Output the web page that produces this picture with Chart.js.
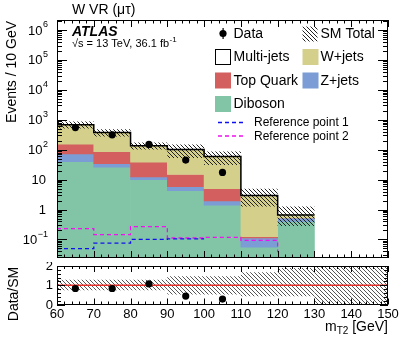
<!DOCTYPE html>
<html>
<head>
<meta charset="utf-8">
<script src="https://cdn.jsdelivr.net/npm/chart.js@4.4.0/dist/chart.umd.min.js"></script>
<style>
  html, body { margin: 0; padding: 0; background: #fff; }
  #wrap { position: relative; width: 411px; height: 339px; }
  #main { position: absolute; left: 0; top: 0; }
  #ratio { position: absolute; left: 0; top: 262px; }
</style>
</head>
<body>
<div id="wrap">
  <canvas id="main" width="411" height="262" style="width:411px;height:262px"></canvas>
  <canvas id="ratio" width="411" height="77" style="width:411px;height:77px"></canvas>
</div>
<script>
// binning (m_T2 in GeV)
const binEdges = [60, 70, 80, 90, 100, 110, 120, 130, 140, 150];
const binCenters = [65, 75, 85, 95, 105, 115, 125, 135, 145];

// stacked backgrounds, events per bin (60-130 GeV)
const multiJets = [0, 0, 0, 0, 0, 0, 0];
const wJets = [530, 286, 98, 87, 54, 2.83, 0.14];
const topQuark = [81, 52, 26, 9.0, 3.0, 0.013, 0];
const zJets = [32, 8.3, 2.4, 1.5, 0.55, 0.057, 0.12];
const diboson = [40, 26, 10, 4.3, 1.4, 0.055, 0.40];

// observed data
const dataEvents = [545, 312, 150, 45, 17.4, null, null];
const dataOverSM = [0.83, 0.83, 1.07, 0.44, 0.28];

// signal reference points (per bin, 60-150 GeV)
const refPoint1 = [0.049, 0.075, 0.10, 0.104, 0.104, 0, 0.026, 0, 0];
const refPoint2 = [0.23, 0.145, 0.27, 0.112, 0.118, 0.093, 0.037, 0, 0];

// SM total uncertainty, relative to SM total
const bandLow = [0.74, 0.74, 0.74, 0.52, 0.52, 0.43, 0.43, 0, 0];
const bandHigh = [1.28, 1.28, 1.28, 1.47, 1.47, 1.67, 1.9, 2, 2];

// axis labels
const xTickValues = [60, 70, 80, 90, 100, 110, 120, 130, 140, 150];
const yTickValues = [0.1, 1, 10, 100, 1e3, 1e4, 1e5, 1e6];
const yTickBase = ['10', '1', '10', '10', '10', '10', '10', '10'];
const yTickExp = ['\u22121', '', '', '2', '3', '4', '5', '6'];
const ratioTickValues = [0, 1, 2];

const FONT = '"Liberation Sans", Arial, Helvetica, sans-serif';
Chart.defaults.font.family = FONT;
Chart.defaults.animation = false;

const C = {
  wjets: '#d4d08c',
  top: '#d45f5f',
  zjets: '#7b9cd4',
  diboson: '#82c4a6',
  ref1: '#1010ee',
  ref2: '#ee10ee'
};

function hatch(ctx, size, color) {
  const c = document.createElement('canvas');
  c.width = size; c.height = size;
  const g = c.getContext('2d');
  g.strokeStyle = color;
  g.lineWidth = 1;
  g.beginPath();
  for (const o of [-size, 0, size]) {
    g.moveTo(o, 0);
    g.lineTo(o + size, size);
  }
  g.stroke();
  return ctx.createPattern(c, 'repeat');
}

// cumulative stack, bottom to top; the bottom layer starts below the axis
const FLOOR = 1e-3;
const layers = [diboson, zJets, topQuark, wJets, multiJets];
const floors = [];
let running = diboson.map(() => 0);
for (const l of layers) {
  floors.push(running.slice());
  running = running.map((v, i) => v + l[i]);
}
const smTotal = running;

const floatBars = (k) => layers[k].map((v, i) => ({
  x: binCenters[i],
  y: [floors[k][i] || FLOOR, floors[k][i] + v || FLOOR]
}));
const stepLine = (vals) => {
  const pts = vals.map((v, i) => ({ x: binEdges[i], y: v }));
  pts.push({ x: binEdges[vals.length], y: vals[vals.length - 1] });
  return pts;
};

const mainCtx = document.getElementById('main').getContext('2d');
const ratioCtx = document.getElementById('ratio').getContext('2d');
const hatchMain = hatch(mainCtx, 4, '#222');
const hatchRatio = hatch(ratioCtx, 4, '#555');

// frame + inward ticks, ROOT style
const framePlugin = {
  id: 'frame',
  afterDatasetsDraw(chart, args, o) {
    const { ctx, chartArea: a } = chart;
    const x = chart.scales.x, y = chart.scales.y;
    ctx.save();
    ctx.strokeStyle = '#000';
    ctx.lineWidth = 1;
    ctx.beginPath();
    for (let v = 60; v <= 150; v += 2) {
      const px = Math.round(x.getPixelForValue(v)) + 0.5;
      const len = v % 10 === 0 ? o.xMajor : o.xMinor;
      ctx.moveTo(px, a.bottom); ctx.lineTo(px, a.bottom - len);
      ctx.moveTo(px, a.top); ctx.lineTo(px, a.top + len);
    }
    const yt = [];
    if (o.log) {
      for (let e = -2; e <= 6; e++) {
        for (let m = 1; m <= 9; m++) yt.push([m * Math.pow(10, e), m === 1]);
      }
    } else {
      for (let v = 0; v <= 2.0001; v += 0.2) yt.push([v, Math.abs(v - Math.round(v)) < 1e-6]);
    }
    for (const [v, major] of yt) {
      if (v < y.min || v > y.max) continue;
      const py = Math.round(y.getPixelForValue(v)) + 0.5;
      const len = major ? o.yMajor : o.yMinor;
      ctx.moveTo(a.left, py); ctx.lineTo(a.left + len, py);
      ctx.moveTo(a.right, py); ctx.lineTo(a.right - len, py);
    }
    ctx.stroke();
    ctx.strokeRect(Math.round(a.left) + 0.5, Math.round(a.top) + 0.5,
      Math.round(a.right) - Math.round(a.left) - 1, Math.round(a.bottom) - Math.round(a.top) - 1);
    ctx.restore();
  }
};

const mainText = {
  id: 'mainText',
  afterDraw(chart) {
    const { ctx } = chart;
    const y = chart.scales.y;
    ctx.save();
    ctx.fillStyle = '#000';
    ctx.textBaseline = 'middle';
    // y tick labels with exponents
    yTickValues.forEach((v, i) => {
      const py = y.getPixelForValue(v);
      ctx.font = `9px ${FONT}`;
      const we = yTickExp[i] ? ctx.measureText(yTickExp[i]).width : 0;
      ctx.textAlign = 'right';
      if (we) ctx.fillText(yTickExp[i], 48, py - 5);
      ctx.font = `13px ${FONT}`;
      ctx.fillText(yTickBase[i], 48 - we - (we ? 0.5 : 2), py + 1);
    });
    // y title
    ctx.save();
    ctx.translate(12, 21);
    ctx.rotate(-Math.PI / 2);
    ctx.font = `14px ${FONT}`;
    ctx.textAlign = 'right';
    ctx.fillText('Events / 10 GeV', 0, 0);
    ctx.restore();
    // title and labels
    ctx.textAlign = 'left';
    ctx.font = `14px ${FONT}`;
    ctx.fillText('W VR (\u03bc\u03c4)', 72, 10);
    ctx.font = `italic bold 14px ${FONT}`;
    ctx.fillText('ATLAS', 72, 32);
    ctx.font = `11px ${FONT}`;
    const lumi = '\u221as = 13 TeV, 36.1 fb';
    ctx.fillText(lumi, 72, 44);
    const lw = ctx.measureText(lumi).width;
    ctx.font = `8px ${FONT}`;
    ctx.fillText('-1', 72 + lw + 0.5, 40);

    // legend
    const col1 = 215, col2 = 302.5, tx1 = 233.5, tx2 = 320.5;
    ctx.font = `14px ${FONT}`;
    // Data
    ctx.beginPath();
    ctx.arc(223, 33.5, 3.6, 0, Math.PI * 2);
    ctx.fill();
    ctx.fillRect(222.5, 28, 1.2, 11);
    ctx.fillText('Data', tx1, 34);
    // SM total
    ctx.fillStyle = hatchMain;
    ctx.fillRect(col2, 26.5, 15, 15);
    ctx.fillStyle = '#000';
    ctx.fillText('SM Total', tx2, 34);
    const box = (x, yy, color, label, border) => {
      ctx.fillStyle = color;
      ctx.fillRect(x, yy, 16, 16);
      if (border) {
        ctx.strokeStyle = '#000';
        ctx.lineWidth = 1;
        ctx.strokeRect(x + 0.5, yy + 0.5, 15, 15);
      }
      ctx.fillStyle = '#000';
      ctx.fillText(label, x === col1 ? tx1 : tx2, yy + 8.5);
    };
    box(col1, 49, '#fff', 'Multi-jets', true);
    box(col2, 49, C.wjets, 'W+jets');
    box(col1, 72.5, C.top, 'Top Quark');
    box(col2, 72.5, C.zjets, 'Z+jets');
    box(col1, 96, C.diboson, 'Diboson');
    const dash = (yy, color, label) => {
      ctx.save();
      ctx.strokeStyle = color;
      ctx.lineWidth = 1.3;
      ctx.setLineDash([4, 3]);
      ctx.beginPath();
      ctx.moveTo(218, yy); ctx.lineTo(245, yy);
      ctx.stroke();
      ctx.restore();
      ctx.font = `12px ${FONT}`;
      ctx.fillText(label, 254, yy + 0.5);
    };
    dash(122.5, C.ref1, 'Reference point 1');
    dash(136, C.ref2, 'Reference point 2');
    ctx.restore();
  }
};

const ratioText = {
  id: 'ratioText',
  afterDraw(chart) {
    const { ctx } = chart;
    const x = chart.scales.x, y = chart.scales.y;
    ctx.save();
    ctx.fillStyle = '#000';
    ctx.font = `13px ${FONT}`;
    ctx.textBaseline = 'middle';
    ctx.textAlign = 'center';
    xTickValues.forEach(v => ctx.fillText(String(v), x.getPixelForValue(v), 52));
    ctx.textAlign = 'right';
    ratioTickValues.forEach(v => ctx.fillText(String(v), 53, y.getPixelForValue(v) + 0.5));
    // x title m_T2 [GeV]
    ctx.font = `14px ${FONT}`;
    const wUnit = ctx.measureText(' [GeV]').width;
    const wm = ctx.measureText('m').width;
    ctx.font = `10px ${FONT}`;
    const wSub = ctx.measureText('T2').width;
    let xr = 388 - wUnit - wSub - wm;
    ctx.textAlign = 'left';
    ctx.font = `14px ${FONT}`;
    ctx.fillText('m', xr, 65);
    ctx.font = `10px ${FONT}`;
    ctx.fillText('T2', xr + wm, 69);
    ctx.font = `14px ${FONT}`;
    ctx.fillText(' [GeV]', xr + wm + wSub, 65);
    // y title
    ctx.save();
    ctx.translate(14, 32);
    ctx.rotate(-Math.PI / 2);
    ctx.textAlign = 'center';
    ctx.fillText('Data/SM', 0, 0);
    ctx.restore();
    ctx.restore();
  }
};

const barCommon = { type: 'bar', grouped: false, barPercentage: 1, categoryPercentage: 1, borderWidth: 0 };

new Chart(mainCtx, {
  data: {
    datasets: [
      { type: 'line', label: 'Data', data: dataEvents.map((v, i) => ({ x: binCenters[i], y: v })),
        showLine: false, pointRadius: 3.6, pointBackgroundColor: '#000', pointBorderWidth: 0 },
      { type: 'line', label: 'SM Total', data: [...stepLine(smTotal), { x: 130, y: 0 }], stepped: 'before',
        borderColor: '#000', borderWidth: 1.5, pointRadius: 0, fill: false },
      { ...barCommon, label: 'SM band',
        data: smTotal.map((t, i) => ({ x: binCenters[i], y: [t * bandLow[i], t * bandHigh[i]] })),
        backgroundColor: hatchMain, inflateAmount: 0 },
      { type: 'line', label: 'Reference point 1', data: stepLine(refPoint1), stepped: 'before',
        borderColor: C.ref1, borderWidth: 1.3, borderDash: [4, 3], pointRadius: 0, fill: false },
      { type: 'line', label: 'Reference point 2', data: stepLine(refPoint2), stepped: 'before',
        borderColor: C.ref2, borderWidth: 1.3, borderDash: [4, 3], pointRadius: 0, fill: false },
      { ...barCommon, label: 'Multi-jets', data: floatBars(4), backgroundColor: '#fff' },
      { ...barCommon, label: 'W+jets', data: floatBars(3), backgroundColor: C.wjets },
      { ...barCommon, label: 'Top Quark', data: floatBars(2), backgroundColor: C.top },
      { ...barCommon, label: 'Z+jets', data: floatBars(1), backgroundColor: C.zjets },
      { ...barCommon, label: 'Diboson', data: floatBars(0), backgroundColor: C.diboson }
    ]
  },
  options: {
    responsive: false,
    layout: { padding: { left: 57, right: 23, top: 20, bottom: 1 } },
    scales: {
      x: { type: 'linear', min: 60, max: 150, offset: false, display: false },
      y: { type: 'logarithmic', min: 0.024, max: 2.15e6, display: false }
    },
    plugins: {
      legend: { display: false },
      tooltip: { enabled: false },
      frame: { xMajor: 7, xMinor: 3.5, yMajor: 10, yMinor: 5, log: true }
    }
  },
  plugins: [framePlugin, mainText]
});

new Chart(ratioCtx, {
  data: {
    datasets: [
      { type: 'line', label: 'Data/SM', data: dataOverSM.map((v, i) => ({ x: binCenters[i], y: v })),
        showLine: false, pointRadius: 3.6, pointBackgroundColor: '#000', pointBorderWidth: 0 },
      { type: 'line', label: 'unity', data: [{ x: 60, y: 1 }, { x: 150, y: 1 }],
        borderColor: '#e8302c', borderWidth: 1.6, pointRadius: 0, fill: false },
      { ...barCommon, label: 'SM band',
        data: bandLow.map((l, i) => ({ x: binCenters[i], y: [l, bandHigh[i]] })),
        backgroundColor: hatchRatio, inflateAmount: 0 }
    ]
  },
  options: {
    responsive: false,
    layout: { padding: { left: 57, right: 23, top: 4, bottom: 34.5 } },
    scales: {
      x: { type: 'linear', min: 60, max: 150, offset: false, display: false },
      y: { type: 'linear', min: 0, max: 2, display: false }
    },
    plugins: {
      legend: { display: false },
      tooltip: { enabled: false },
      frame: { xMajor: 6, xMinor: 3, yMajor: 8, yMinor: 4, log: false }
    }
  },
  plugins: [framePlugin, ratioText]
});
</script>
</body>
</html>
